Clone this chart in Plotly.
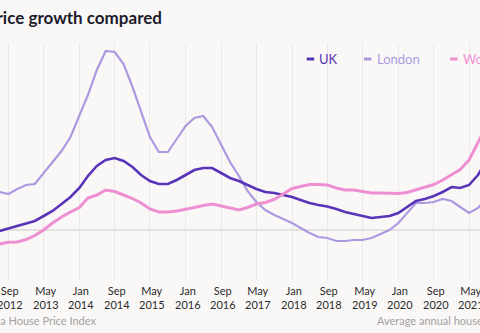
import plotly.graph_objects as go

# ---- data (annual house price growth, %) ----
dates = [
    "2012-07-01", "2012-09-01", "2012-11-01",
    "2013-01-01", "2013-03-01", "2013-05-01", "2013-07-01", "2013-09-01", "2013-11-01",
    "2014-01-01", "2014-03-01", "2014-05-01", "2014-07-01", "2014-09-01", "2014-11-01",
    "2015-01-01", "2015-03-01", "2015-05-01", "2015-07-01", "2015-09-01", "2015-11-01",
    "2016-01-01", "2016-03-01", "2016-05-01", "2016-07-01", "2016-09-01", "2016-11-01",
    "2017-01-01", "2017-03-01", "2017-05-01", "2017-07-01", "2017-09-01", "2017-11-01",
    "2018-01-01", "2018-03-01", "2018-05-01", "2018-07-01", "2018-09-01", "2018-11-01",
    "2019-01-01", "2019-03-01", "2019-05-01", "2019-07-01", "2019-09-01", "2019-11-01",
    "2020-01-01", "2020-03-01", "2020-05-01", "2020-07-01", "2020-09-01", "2020-11-01",
    "2021-01-01", "2021-03-01", "2021-05-01", "2021-07-01", "2021-08-01", "2021-09-01",
]
uk = [-0.1, 0.15, 0.4, 0.6, 0.9, 1.4, 1.9, 2.6, 3.3, 4.2, 5.4, 6.4, 7.0, 7.2, 6.9,
      6.3, 5.5, 4.9, 4.6, 4.6, 5.0, 5.5, 6.0, 6.2, 6.2, 5.7, 5.2, 4.9, 4.5, 4.1,
      3.8, 3.7, 3.5, 3.3, 3.0, 2.7, 2.5, 2.35, 2.1, 1.8, 1.6, 1.4, 1.2, 1.3, 1.4,
      1.7, 2.3, 2.9, 3.1, 3.4, 3.8, 4.3, 4.2, 4.5, 5.5, 6.3, 7.0]
london = [3.8, 3.6, 4.1, 4.5, 4.6, 5.7, 6.7, 7.9, 9.3, 11.5, 13.5, 16.0, 17.9, 17.8, 16.6,
          14.3, 11.9, 9.3, 7.8, 7.8, 9.1, 10.4, 11.2, 11.4, 10.3, 8.5, 6.8, 5.4, 3.9, 2.8,
          2.0, 1.5, 1.1, 0.7, 0.2, -0.3, -0.7, -0.8, -1.1, -1.1, -1.0, -1.0, -0.8, -0.4, 0.0,
          0.7, 1.7, 2.7, 2.7, 2.8, 3.1, 2.9, 2.3, 1.7, 2.2, 2.7, 3.2]
wo = [-1.4, -1.23, -1.2, -0.95, -0.55, 0.0, 0.7, 1.3, 1.8, 2.25, 3.2, 3.5, 4.0, 3.85, 3.5,
      3.15, 2.7, 2.1, 1.8, 1.8, 1.9, 2.05, 2.25, 2.45, 2.6, 2.4, 2.2, 2.0, 2.25, 2.6,
      2.75, 3.05, 3.6, 4.15, 4.35, 4.55, 4.55, 4.5, 4.2, 4.0, 4.0, 3.85, 3.7, 3.7, 3.65,
      3.65, 3.75, 4.0, 4.25, 4.55, 5.0, 5.5, 6.05, 7.0, 8.8, 9.7, 10.5]

series_names = ["UK", "London", "Worcester"]

tick_dates = ["2012-09-01", "2013-05-01", "2014-01-01", "2014-09-01", "2015-05-01",
              "2016-01-01", "2016-09-01", "2017-05-01", "2018-01-01", "2018-09-01",
              "2019-05-01", "2020-01-01", "2020-09-01", "2021-05-01"]
tick_months = ["Sep", "May", "Jan", "Sep", "May", "Jan", "Sep", "May", "Jan", "Sep",
               "May", "Jan", "Sep", "May"]
tick_years = ["2012", "2013", "2014", "2014", "2015", "2016", "2016", "2017", "2018",
              "2018", "2019", "2020", "2020", "2021"]

# ---- style ----
BG = "#faf8f7"
C_UK = "#5a34b8"
C_LON = "#ab9ae0"
C_WO = "#ee8fd2"
FONT = "Lato"

W, H = 480, 333
TOP, BOT = 43, 280  # plot area in pixels


def py(p):  # pixel y -> paper y
    return (BOT - p) / (BOT - TOP)


def px(p):  # pixel x -> paper x
    return p / W


fig = go.Figure()
fig.add_trace(go.Scatter(x=dates, y=london, mode="lines", name=series_names[1],
                         line=dict(color=C_LON, width=2.2), showlegend=False))
fig.add_trace(go.Scatter(x=dates, y=uk, mode="lines", name=series_names[0],
                         line=dict(color=C_UK, width=2.6), showlegend=False))
fig.add_trace(go.Scatter(x=dates, y=wo, mode="lines", name=series_names[2],
                         line=dict(color=C_WO, width=3), showlegend=False))

annotations = []
# title (cropped at left)
annotations.append(dict(text="<b>House price growth compared</b>", xref="paper", yref="paper",
                        x=px(164), y=py(18), xanchor="right", yanchor="middle",
                        showarrow=False, font=dict(family=FONT, size=17, color="#1d1b2c")))
# tick labels (two lines)
for d, m, y in zip(tick_dates, tick_months, tick_years):
    annotations.append(dict(text=m + "<br>" + y, xref="x", yref="paper", x=d, y=0,
                            xshift=2, yshift=-17.5, xanchor="center", yanchor="middle",
                            showarrow=False, align="center",
                            font=dict(family=FONT, size=11, color="#2b2b2b")))
# footer
annotations.append(dict(text="Source: Zoopla House Price Index", xref="paper", yref="paper",
                        x=px(98), y=py(320), xanchor="right", yanchor="middle", showarrow=False,
                        font=dict(family=FONT, size=11, color="#a3a1a1")))
annotations.append(dict(text="Average annual house price growth", xref="paper", yref="paper",
                        x=px(375), y=py(320), xanchor="left", yanchor="middle", showarrow=False,
                        font=dict(family=FONT, size=11, color="#a3a1a1")))

shapes = []
# legend background covering gridlines
shapes.append(dict(type="rect", xref="paper", yref="paper", x0=px(278), x1=px(490),
                   y0=py(80), y1=py(40), fillcolor=BG, line=dict(width=0), layer="between"))
legend_items = [(series_names[0], C_UK, 306.7, 317), (series_names[1], C_LON, 364, 375),
                (series_names[2], C_WO, 450, 461)]
for name, col, x0, xt in legend_items:
    shapes.append(dict(type="line", xref="paper", yref="paper", x0=px(x0), x1=px(x0 + 7.5),
                       y0=py(59), y1=py(59), line=dict(color=col, width=3), layer="above"))
    annotations.append(dict(text=name, xref="paper", yref="paper", x=px(xt), y=py(59),
                            xanchor="left", yanchor="middle", showarrow=False,
                            font=dict(family=FONT, size=13, color=col)))

fig.update_layout(
    width=W, height=H,
    margin=dict(l=0, r=0, t=TOP, b=H - BOT, pad=0),
    paper_bgcolor=BG, plot_bgcolor=BG,
    annotations=annotations, shapes=shapes,
    xaxis=dict(type="date", range=["2012-07-05", "2021-07-15"], tickvals=tick_dates,
               showticklabels=False, showgrid=True, gridcolor="#ebe9e8", gridwidth=1,
               zeroline=False, showline=False, ticks=""),
    yaxis=dict(range=[-5, 18.7], showgrid=False, zeroline=True, zerolinecolor="#e3e1e0",
               zerolinewidth=1.5, showticklabels=False, ticks=""),
)

fig.write_html("out.html")
